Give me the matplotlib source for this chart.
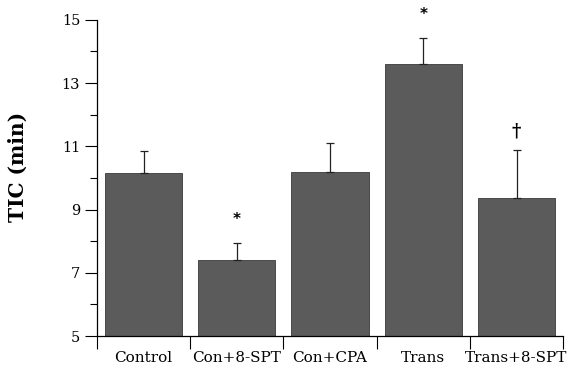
import matplotlib
matplotlib.use("Agg")
import matplotlib.pyplot as plt
import numpy as np

categories = ["Control", "Con+8-SPT", "Con+CPA", "Trans", "Trans+8-SPT"]
means = [10.15, 7.40, 10.20, 13.62, 9.37]
errors = [0.70, 0.55, 0.90, 0.80, 1.50]
markers = ["", "*", "", "*", "\u2020"]
yticks = [5, 7, 9, 11, 13, 15]

plt.rcParams['font.family'] = ['DejaVu Serif']

fig = plt.figure(figsize=(5.7, 3.75), dpi=100)
ax = fig.add_axes([0.170, 0.104, 0.818, 0.843])

x = np.arange(1, len(categories) + 1)
ax.bar(x, np.array(means) - 5, bottom=5, width=0.83, color="#5b5b5b",
       edgecolor="#3a3a3a", linewidth=0.6, zorder=2)
ax.errorbar(x, means, yerr=[np.zeros(len(errors)), errors], fmt="none",
            ecolor="#222222", elinewidth=0.9, capsize=3, capthick=0.9, zorder=3)

for xi, m, e, s in zip(x, means, errors, markers):
    if not s:
        continue
    if s == "*":
        ax.text(xi, m + e + 0.75, s, ha="center", va="center", fontsize=11,
                family="DejaVu Sans", fontweight="bold", clip_on=False)
    else:
        ax.text(xi, m + e + 0.6, s, ha="center", va="center", fontsize=13,
                fontweight="bold", clip_on=False)

ax.set_xlim(0.5, len(categories) + 0.5)
ax.set_ylim(5, 15)
ax.set_yticks(yticks)
ax.set_yticks([6, 8, 10, 12, 14], minor=True)
ax.set_xticks(x)
ax.set_xticklabels(categories, fontsize=11)
ax.set_xticks(np.arange(0.5, len(categories) + 1, 1.0), minor=True)
ax.tick_params(axis="x", which="major", length=0, pad=11)
ax.tick_params(axis="x", which="minor", length=9, width=0.8, direction="out")
ax.tick_params(axis="y", which="major", length=9, width=0.8, labelsize=10.5, pad=3)
ax.tick_params(axis="y", which="minor", length=5, width=0.8)
for sp in ["top", "right"]:
    ax.spines[sp].set_visible(False)
for sp in ["left", "bottom"]:
    ax.spines[sp].set_linewidth(0.9)
ax.spines["left"].set_bounds(5, 15)

ax.set_ylabel("TIC (min)", fontsize=14.5, fontweight="bold")
ax.yaxis.set_label_coords(-0.148, 0.535)

fig.savefig("out.png", dpi=100)
